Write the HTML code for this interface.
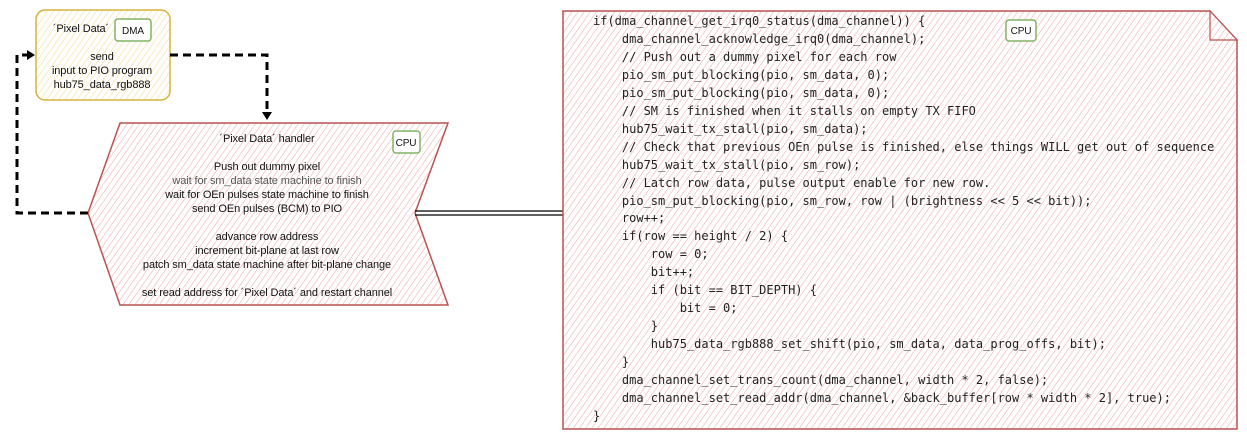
<!DOCTYPE html>
<html><head><meta charset="utf-8"><style>
html,body{margin:0;padding:0;background:#fff;width:1247px;height:440px;overflow:hidden}
svg{position:absolute;left:0;top:0}
.code{position:absolute;left:593px;top:13px;font-family:"DejaVu Sans Mono","Liberation Mono",monospace;font-size:12px;line-height:17.95px;color:#222;white-space:pre;margin:0}
.t{font-family:"Liberation Sans",sans-serif;font-size:11px;letter-spacing:-0.1px;fill:#111;text-anchor:middle}
</style></head><body>
<svg width="1247" height="440" viewBox="0 0 1247 440">
<defs>
<pattern id="hr" width="5" height="5" patternUnits="userSpaceOnUse" patternTransform="rotate(35)">
<rect width="5" height="5" fill="#fff"/><line x1="0" y1="0" x2="0" y2="5" stroke="#f0b0b0" stroke-width="1.2"/></pattern>
<pattern id="hy" width="5" height="5" patternUnits="userSpaceOnUse" patternTransform="rotate(35)">
<rect width="5" height="5" fill="#fff"/><line x1="0" y1="0" x2="0" y2="5" stroke="#f5dc95" stroke-width="1.2"/></pattern>
</defs>
<rect x="36" y="10" width="134" height="90" rx="9" fill="url(#hy)" stroke="#d6b33c" stroke-width="1.5"/>
<text class="t" x="81" y="32">´Pixel Data´</text>
<rect x="115" y="19" width="36" height="22" rx="3" fill="#fff" stroke="#82b366" stroke-width="1.5"/>
<text class="t" x="133" y="34" style="font-size:10px">DMA</text>
<text class="t" x="102" y="60">send</text>
<text class="t" x="102" y="74">input to PIO program</text>
<text class="t" x="102" y="88">hub75_data_rgb888</text>
<polygon points="120,123 448,123 415,213 448,305 120,305 88,213" fill="url(#hr)" stroke="#b85450" stroke-width="1.5"/>
<text class="t" x="267" y="142">´Pixel Data´ handler</text>
<rect x="393" y="131" width="27" height="22" rx="3" fill="#fff" stroke="#82b366" stroke-width="1.5"/>
<text class="t" x="406" y="146" style="font-size:10px">CPU</text>
<text class="t" x="267" y="170">Push out dummy pixel</text>
<text class="t" x="267" y="184" style="fill:#555">wait for sm_data state machine to finish</text>
<text class="t" x="267" y="198">wait for OEn pulses state machine to finish</text>
<text class="t" x="267" y="212">send OEn pulses (BCM) to PIO</text>
<text class="t" x="267" y="240">advance row address</text>
<text class="t" x="267" y="254">increment bit-plane at last row</text>
<text class="t" x="267" y="268">patch sm_data state machine after bit-plane change</text>
<text class="t" x="267" y="296">set read address for ´Pixel Data´ and restart channel</text>
<path d="M170,55 H267 V113" fill="none" stroke="#000" stroke-width="3" stroke-dasharray="8,5"/>
<polygon points="262,112 272,112 267,120" fill="#000"/>
<path d="M88,213 H17 V55 H28" fill="none" stroke="#000" stroke-width="3" stroke-dasharray="8,5"/>
<polygon points="27,50 35,55 27,60" fill="#000"/>
<line x1="415" y1="211" x2="563" y2="211" stroke="#000" stroke-width="1.2"/>
<line x1="415" y1="215" x2="563" y2="215" stroke="#000" stroke-width="1.2"/>
<polygon points="563,11 1210,11 1237,40 1237,429 563,429" fill="url(#hr)" stroke="#b85450" stroke-width="1.5"/>
<polygon points="1210,11 1210,40 1237,40" fill="url(#hr)" stroke="#b85450" stroke-width="1.2"/>
<rect x="1006" y="20" width="30" height="21" rx="3" fill="#fff" stroke="#82b366" stroke-width="1.5"/>
<text class="t" x="1021" y="34" style="font-size:10px">CPU</text>
</svg>
<pre class="code">if(dma_channel_get_irq0_status(dma_channel)) {
    dma_channel_acknowledge_irq0(dma_channel);
    // Push out a dummy pixel for each row
    pio_sm_put_blocking(pio, sm_data, 0);
    pio_sm_put_blocking(pio, sm_data, 0);
    // SM is finished when it stalls on empty TX FIFO
    hub75_wait_tx_stall(pio, sm_data);
    // Check that previous OEn pulse is finished, else things WILL get out of sequence
    hub75_wait_tx_stall(pio, sm_row);
    // Latch row data, pulse output enable for new row.
    pio_sm_put_blocking(pio, sm_row, row | (brightness &lt;&lt; 5 &lt;&lt; bit));
    row++;
    if(row == height / 2) {
        row = 0;
        bit++;
        if (bit == BIT_DEPTH) {
            bit = 0;
        }
        hub75_data_rgb888_set_shift(pio, sm_data, data_prog_offs, bit);
    }
    dma_channel_set_trans_count(dma_channel, width * 2, false);
    dma_channel_set_read_addr(dma_channel, &amp;back_buffer[row * width * 2], true);
}</pre>
</body></html>
